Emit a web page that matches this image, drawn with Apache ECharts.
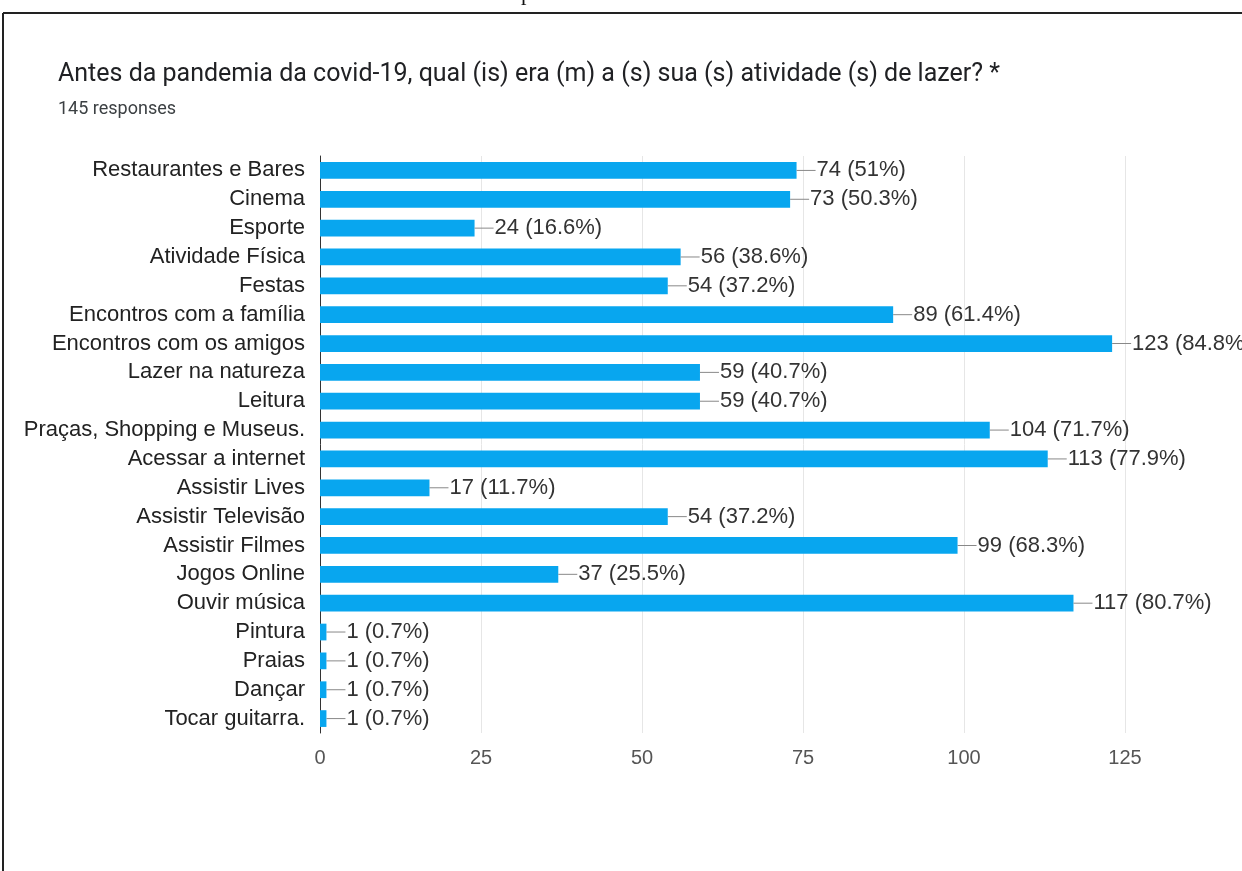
<!DOCTYPE html>
<html>
<head>
<meta charset="utf-8">
<script src="https://cdn.jsdelivr.net/npm/echarts@6/dist/echarts.min.js"></script>
<style>
html,body{margin:0;padding:0;background:#fff;}
#chart{width:1242px;height:871px;}
</style>
</head>
<body>
<div id="chart"></div>
<script>
const titleText = 'Antes da pandemia da covid-19, qual (is) era (m) a (s) sua (s) atividade (s) de lazer? *';
const subtitleText = '145 responses';
const categories = ['Restaurantes e Bares','Cinema','Esporte','Atividade Física','Festas','Encontros com a família','Encontros com os amigos','Lazer na natureza','Leitura','Praças, Shopping e Museus.','Acessar a internet','Assistir Lives','Assistir Televisão','Assistir Filmes','Jogos Online','Ouvir música','Pintura','Praias','Dançar','Tocar guitarra.'];
const counts = [74,73,24,56,54,89,123,59,59,104,113,17,54,99,37,117,1,1,1,1];
const percents = ['51','50.3','16.6','38.6','37.2','61.4','84.8','40.7','40.7','71.7','77.9','11.7','37.2','68.3','25.5','80.7','0.7','0.7','0.7','0.7'];
const xTicks = [0,25,50,75,100,125];
const FONT = 'Arial, "Liberation Sans", sans-serif';

const chart = echarts.init(document.getElementById('chart'));
chart.setOption({
  animation:false,
  backgroundColor:'#fff',
  graphic:[
    {type:'text',left:521,top:-17,style:{text:'p',font:'22px "Liberation Serif", serif',fill:'#111'}},
    {type:'rect',shape:{x:0,y:12,width:1242,height:3},style:{fill:'#fff'}},
    {type:'line',shape:{x1:3,y1:13,x2:1242,y2:13},style:{stroke:'#222',lineWidth:2}},
    {type:'line',shape:{x1:3,y1:13,x2:3,y2:871},style:{stroke:'#222',lineWidth:2}},
    {type:'text',left:58,top:62,style:{text:titleText,font:'25px Roboto',fill:'#202124'}},
    {type:'text',left:58,top:100,style:{text:subtitleText,font:'18px Roboto',fill:'#3c4043'}}
  ],
  grid:{left:320,right:117,top:156,bottom:138,containLabel:false},
  xAxis:{
    type:'value',min:xTicks[0],max:xTicks[xTicks.length-1],interval:25,
    axisLine:{show:false},axisTick:{show:false},
    splitLine:{show:true,lineStyle:{color:'#e6e6e6',width:1}},
    axisLabel:{color:'#555',fontSize:20,fontFamily:FONT,margin:15}
  },
  yAxis:{
    type:'category',data:categories,inverse:true,
    axisLine:{show:true,lineStyle:{color:'#333',width:1}},
    axisTick:{show:false},
    splitLine:{show:false},
    axisLabel:{color:'#222',fontSize:22,fontFamily:FONT,margin:15}
  },
  series:[{
    type:'bar',data:counts,barCategoryGap:'42%',
    itemStyle:{color:'#08a6ef'},
    label:{
      show:true,position:'right',distance:0,
      formatter:p=>'{l|}{v|'+p.value+' ('+percents[p.dataIndex]+'%)}',
      rich:{
        l:{width:19,height:1,backgroundColor:'#888'},
        v:{color:'#333',fontSize:22,fontFamily:FONT,padding:[0,0,0,1]}
      }
    }
  }]
});
</script>
</body>
</html>
